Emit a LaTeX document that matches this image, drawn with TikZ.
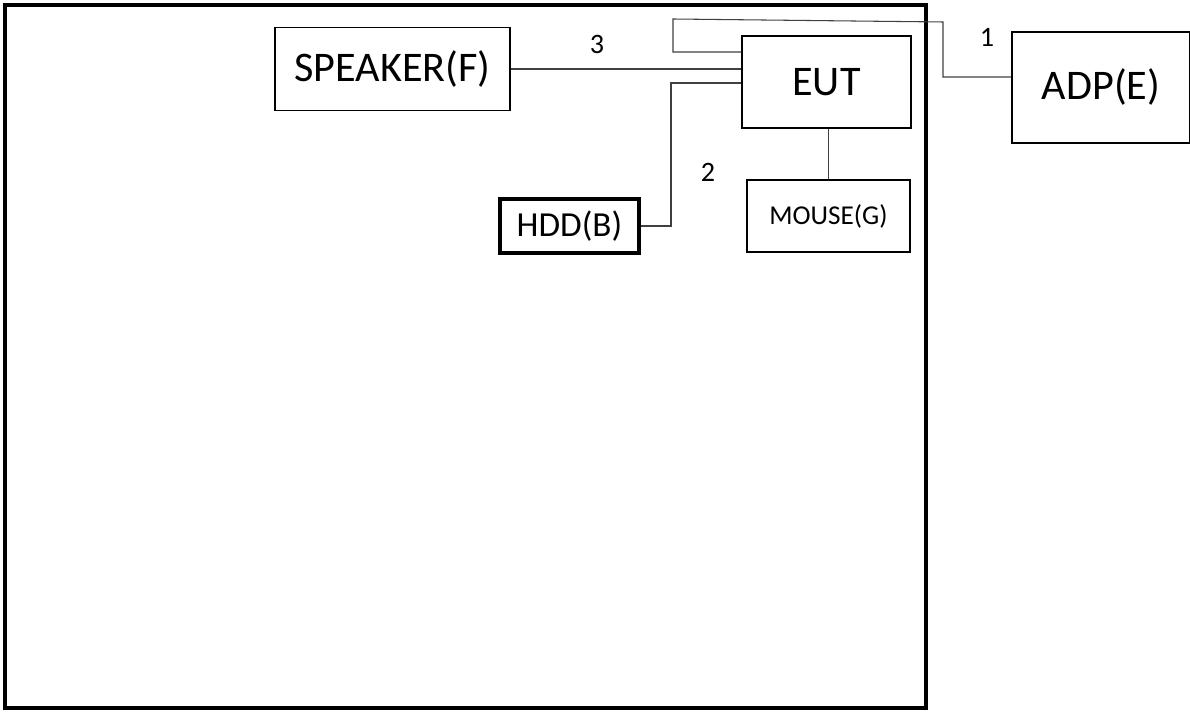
\documentclass[tikz,border=0pt]{standalone}
\usepackage{fontspec}
\setmainfont{Carlito}
\usetikzlibrary{calc}

\begin{document}
\begin{tikzpicture}[x=0.02cm, y=-0.02cm,
  unit/.style={draw, line width=1.1pt, inner sep=0pt, font=\fontsize{24}{28}\selectfont},
  cable/.style={draw=black!75, line width=0.6pt},
  num/.style={font=\fontsize{16}{19}\selectfont}]

% Page frame
\useasboundingbox (0,0) rectangle (1190,712);

% Test room
\draw[line width=2.3pt] (5,5) rectangle (926,708);

% Define units
\node[unit, minimum width=3.38cm, minimum height=1.84cm] (EUT) at (826.5,82) {EUT};
\node[unit, minimum width=4.7cm, minimum height=1.66cm] (SPK) at (392.5,69) {SPEAKER(F)};
\node[unit, line width=2pt, minimum width=2.78cm, minimum height=1.08cm, font=\fontsize{20}{24}\selectfont] (HDD) at (569.5,226) {HDD(B)};
\node[unit, minimum width=3.26cm, minimum height=1.44cm, font=\fontsize{15.5}{18}\selectfont] (MOUSE) at (828.5,216) {MOUSE(G)};
\node[unit, minimum width=3.56cm, minimum height=2.22cm] (ADP) at (1101,87.5) {ADP(E)};

% Bend points of the cables
\coordinate (c1a) at (673,52);
\coordinate (c1b) at (673,19);
\coordinate (c1c) at (943,22);
\coordinate (c1d) at (943,77);
\coordinate (c2a) at (671,83);
\coordinate (c2b) at (671,226);

% Cable 1: EUT to adapter
\draw[cable] (EUT.west |- c1a) -- (c1a) -- (c1b) -- (c1c) -- (c1d) -- (ADP.west |- c1d);

% Cable 2: EUT to HDD
\draw[cable] (EUT.west |- c2a) -- (c2a) -- (c2b) -- (HDD.east);

% Cable 3: speaker to EUT
\draw[cable] (SPK.east) -- (EUT.west |- SPK.east);

% Mouse cable
\draw[cable] (MOUSE.north) -- (EUT.south -| MOUSE.north);

% Cable numbers
\node[num] (n1) at (987,37) {1};
\node[num] (n2) at (708,172) {2};
\node[num] (n3) at (597,44) {3};

\end{tikzpicture}
\end{document}
